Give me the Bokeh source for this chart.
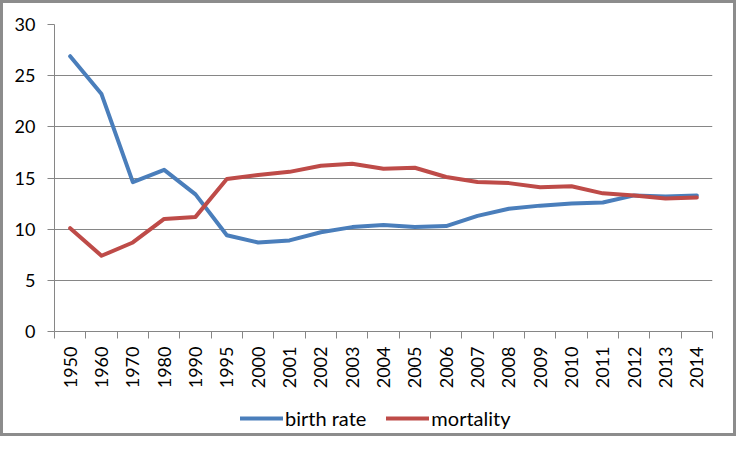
import math
from bokeh.plotting import figure
from bokeh.layouts import column
from bokeh.models import (ColumnDataSource, FixedTicker, Legend, LegendItem, Range1d)
from bokeh.embed import file_html
from bokeh.resources import INLINE

years = ["1950", "1960", "1970", "1980", "1990", "1995", "2000", "2001", "2002",
         "2003", "2004", "2005", "2006", "2007", "2008", "2009", "2010", "2011",
         "2012", "2013", "2014"]
birth_rate = [26.9, 23.2, 14.6, 15.8, 13.4, 9.4, 8.7, 8.9, 9.7, 10.2, 10.4, 10.2,
              10.3, 11.3, 12.0, 12.3, 12.5, 12.6, 13.3, 13.2, 13.3]
mortality = [10.1, 7.4, 8.7, 11.0, 11.2, 14.9, 15.3, 15.6, 16.2, 16.4, 15.9, 16.0,
             15.1, 14.6, 14.5, 14.1, 14.2, 13.5, 13.3, 13.0, 13.1]
y_ticks = [0, 5, 10, 15, 20, 25, 30]
series_names = ["birth rate", "mortality"]
series_colors = ["#4A7EBB", "#BE4B48"]

idx = list(range(len(years)))
src = ColumnDataSource(dict(x=idx, birth=birth_rate, mort=mortality))

FONT = "Lato"
GREY = "#868686"

p = figure(width=730, height=390, output_backend="svg", toolbar_location=None,
           x_range=Range1d(-0.5, len(years) - 0.5), y_range=Range1d(0, 30),
           min_border_left=51, min_border_top=21, min_border_right=21,
           min_border_bottom=62)
p.outline_line_color = None
p.background_fill_color = "white"
p.border_fill_color = "white"

p.line("x", "birth", source=src, line_color=series_colors[0], line_width=4,
       line_join="round", line_cap="round")
p.line("x", "mort", source=src, line_color=series_colors[1], line_width=4,
       line_join="round", line_cap="round")

xa = p.xaxis[0]
xa.ticker = FixedTicker(ticks=idx, minor_ticks=[i - 0.5 for i in idx] + [len(years) - 0.5])
xa.major_label_overrides = {i: y for i, y in zip(idx, years)}
xa.major_label_orientation = math.pi / 2
xa.major_tick_out = 0
xa.major_tick_in = 0
xa.minor_tick_out = 7
xa.minor_tick_in = 0
xa.minor_tick_line_color = GREY
xa.axis_line_color = GREY
xa.major_label_text_font = FONT
xa.major_label_text_font_size = "18px"
xa.major_label_text_color = "black"
xa.major_label_standoff = 8

ya = p.yaxis[0]
ya.ticker = FixedTicker(ticks=y_ticks)
ya.major_tick_out = 7
ya.major_tick_in = 0
ya.minor_tick_line_color = None
ya.major_tick_line_color = GREY
ya.axis_line_color = GREY
ya.major_label_text_font = FONT
ya.major_label_text_font_size = "18px"
ya.major_label_text_color = "black"
ya.major_label_standoff = 12

p.xgrid.grid_line_color = None
p.ygrid.grid_line_color = GREY
p.ygrid.ticker = FixedTicker(ticks=y_ticks)

# legend strip below the chart (series drawn out of its visible range, only keys show)
leg = figure(width=730, height=40, output_backend="svg", toolbar_location=None,
             x_range=Range1d(-0.5, len(years) - 0.5), y_range=Range1d(1000, 1001),
             x_axis_location=None, y_axis_location=None,
             min_border=0, min_border_left=0, min_border_right=0,
             min_border_top=0, min_border_bottom=0)
leg.outline_line_color = None
leg.xgrid.visible = False
leg.ygrid.visible = False
items = []
for name, col, field in zip(series_names, series_colors, ["birth", "mort"]):
    rr = leg.line("x", field, source=src, line_color=col, line_width=4,
                  line_cap="round")
    items.append(LegendItem(label=name, renderers=[rr]))
legend = Legend(items=items, orientation="horizontal", location=(186, 3),
                glyph_width=43, glyph_height=20, label_standoff=2, spacing=20,
                label_text_font=FONT, label_text_font_size="20px",
                label_text_color="black",
                border_line_color=None, background_fill_alpha=0,
                padding=0, margin=0)
leg.add_layout(legend, "center")

layout = column(p, leg, spacing=0, styles={"border": "3px solid #8c8c8c"})

open("out.html", "w").write(file_html(layout, INLINE))
